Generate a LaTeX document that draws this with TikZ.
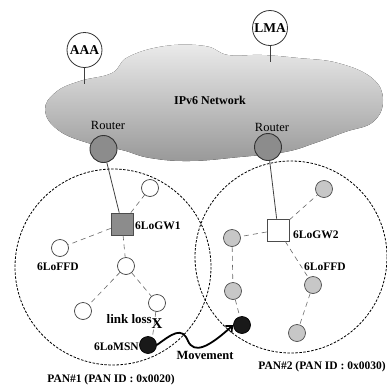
\documentclass[tikz,border=0pt]{standalone}
\usepackage{fontspec}
\setmainfont{Liberation Serif}
\usetikzlibrary{arrows.meta}
\begin{document}
\begin{tikzpicture}[x=1pt,y=-1pt,
  lbl/.style={font=\bfseries\fontsize{11.5}{12}\selectfont, inner sep=0pt},
  router/.style={circle, draw=black!80, fill=black!45, line width=0.9pt, minimum size=27pt, inner sep=0pt},
  server/.style={circle, draw=black!80, fill=white, line width=0.8pt, minimum size=35pt, inner sep=0pt, font=\bfseries\fontsize{13.5}{14}\selectfont},
  wnode/.style={circle, draw=black!75, fill=white, line width=0.7pt, minimum size=17pt, inner sep=0pt},
  gnode/.style={circle, draw=black!70, fill=black!22, line width=0.7pt, minimum size=17pt, inner sep=0pt},
  bnode/.style={circle, draw=black, fill=black!90, line width=0.7pt, minimum size=17pt, inner sep=0pt},
  gw/.style={rectangle, draw=black!70, line width=0.7pt, minimum size=22pt, inner sep=0pt},
  wire/.style={draw=black!75, line width=0.8pt},
  link/.style={draw=black!60, line width=0.6pt, dash pattern=on 5pt off 4pt},
  pan/.style={draw=black, line width=0.8pt, dash pattern=on 2.5pt off 1.5pt},
  move/.style={draw=black, line width=1.8pt, -{Straight Barb[length=5pt,width=9pt]}}
]
\useasboundingbox (0,0) rectangle (387,389);

% IPv6 cloud
\fill[top color=black!8, bottom color=black!40]
  plot[smooth cycle, tension=0.7] coordinates {
    (45,110) (56,92) (80,81) (112,73) (128,57) (165,46) (205,46) (228,55)
    (262,55) (298,58) (338,63) (372,78) (383,100) (373,122) (345,132)
    (315,143) (285,152) (240,157) (190,161) (150,158) (122,150) (88,143) (58,130)};
\node[lbl, font=\bfseries\fontsize{12}{13}\selectfont] (net) at (210,100) {IPv6 Network};

% servers attached to the cloud
\node[server] (aaa) at (84.5,50) {AAA};
\coordinate (aaaend) at (84.5,84);
\draw[wire] (aaa) -- (aaaend);
\node[server] (lma) at (270,28) {LMA};
\coordinate (lmaend) at (270,62);
\draw[wire] (lma) -- (lmaend);

% routers
\node[font=\fontsize{12.5}{13}\selectfont, inner sep=0pt] (r1lbl) at (108,125) {Router};
\node[font=\fontsize{12.5}{13}\selectfont, inner sep=0pt] (r2lbl) at (272,127) {Router};
\node[router] (r1) at (103.5,149) {};
\node[router] (r2) at (268,147) {};

% PAN areas
\draw[pan] (113,267) circle[radius=98];
\draw[pan] (291,257) circle[radius=96];

% PAN#1
\node[gw, fill=black!45] (gw1) at (122,224) {};
\node[wnode] (a1) at (150,188) {};
\node[wnode] (a2) at (60,248) {};
\node[wnode] (a3) at (126,266) {};
\node[wnode] (a4) at (83,311) {};
\node[wnode] (a5) at (157,303) {};
\node[bnode] (msn) at (148,345) {};

\draw[wire] (r1) -- (gw1);
\draw[link] (gw1) -- (a1);
\draw[link] (gw1) -- (a2);
\draw[link] (gw1) -- (a3);
\draw[link] (a3) -- (a4);
\draw[link] (a3) -- (a5);
\draw[link] (a5) -- (msn.60);
\node[font=\bfseries\fontsize{15}{15}\selectfont, inner sep=0pt] (cut) at (157,324) {X};

\node[lbl] (gw1lbl) at (135,226) [anchor=west] {6LoGW1};
\node[lbl] (ffd1) at (58,267) {6LoFFD};
\node[lbl, font=\bfseries\fontsize{13}{14}\selectfont] (loss) at (152,319) [anchor=east] {link loss};
\node[lbl] (msnlbl) at (139,347) [anchor=east] {6LoMSN};
\node[lbl] (pan1) at (111,380) {PAN\#1 (PAN ID : 0x0020)};

% PAN#2
\node[gw, fill=white] (gw2) at (278,230) {};
\node[gnode] (b1) at (324,189) {};
\node[gnode] (b2) at (232,238) {};
\node[gnode] (b3) at (233,291) {};
\node[bnode] (mn) at (242,325) {};
\node[gnode] (b4) at (313,285) {};
\node[gnode] (b5) at (297,333) {};

\draw[wire] (r2) -- (gw2);
\draw[link] (gw2) -- (b1);
\draw[link] (gw2) -- (b2);
\draw[link] (gw2) -- (b4);
\draw[link] (b2) -- (b3);
\draw[link] (b3) -- (mn);
\draw[link] (b4) -- (b5);

\node[lbl] (gw2lbl) at (293,235) [anchor=west] {6LoGW2};
\node[lbl] (ffd2) at (325,267) {6LoFFD};
\node[lbl] (pan2) at (322,367) {PAN\#2 (PAN ID : 0x0030)};

% movement of the mobile sensor node
\coordinate (bend) at (188,341);
\draw[move] (msn.east) .. controls (172,334) and (182,326) .. (bend)
  .. controls (194,354) and (208,348) .. (mn.west);
\node[lbl, font=\bfseries\fontsize{12.5}{13}\selectfont] (movelbl) at (205,355) {Movement};
\end{tikzpicture}
\end{document}
